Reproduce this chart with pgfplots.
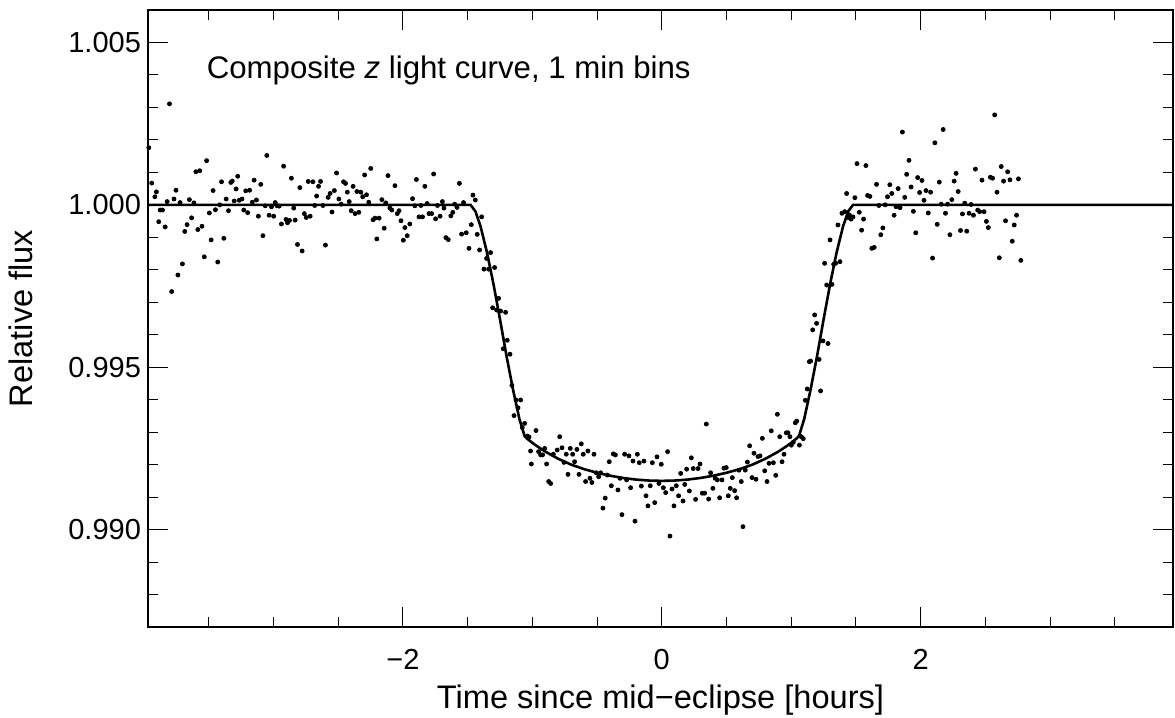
\documentclass[border=0pt]{standalone}
\usepackage{pgfplots}
\pgfplotsset{compat=1.18}
\usepackage{fontspec}
\setmainfont{Liberation Sans}
\newcommand{\fs}{\fontsize{14.5}{17}\selectfont}
\newcommand{\fl}{\fontsize{16.3}{19}\selectfont}
\newcommand{\ft}{\fontsize{15.6}{18}\selectfont}
\begin{document}
\begin{tikzpicture}
\begin{axis}[
  name=ax,
  scale only axis,
  width=512.5pt, height=308.5pt,
  xmin=-3.97, xmax=3.95,
  ymin=0.987, ymax=1.006,
  xtick={-2,0,2},
  xticklabels={−2,0,2},
  ytick={0.990,0.995,1.000,1.005},
  yticklabels={0.990,0.995,1.000,1.005},
  minor xtick={-3.5,-3,-2.5,-1.5,-1,-0.5,0.5,1,1.5,2.5,3,3.5},
  minor ytick={0.988,0.989,0.991,0.992,0.993,0.994,0.996,0.997,0.998,0.999,1.001,1.002,1.003,1.004},
  tick align=inside,
  major tick length=10pt,
  minor tick length=5pt,
  tick style={line width=0.5pt, black},
  axis line style={line width=0.75pt},
  tick label style={font=\fs},
  xticklabel style={yshift=-7.5pt},
  label style={font=\fl},
  xlabel={Time since mid−eclipse [hours]},
  ylabel={Relative flux},
  xlabel style={at={(axis description cs:0.5,-0.1315)}, anchor=base},
  ylabel style={at={(axis description cs:-0.1122,0.5)}, anchor=base},
  clip=true,
]
\addplot[only marks, mark=*, mark size=1pt, black] table {
-3.964 1.00176
-3.941 1.00067
-3.917 1.00025
-3.905 1.00040
-3.887 0.99948
-3.876 0.99984
-3.858 0.99984
-3.837 0.99932
-3.822 1.00010
-3.804 1.00311
-3.787 0.99733
-3.769 1.00018
-3.754 1.00045
-3.739 0.99784
-3.722 1.00007
-3.704 0.99818
-3.686 0.99918
-3.668 0.99939
-3.650 1.00016
-3.633 0.99960
-3.615 1.00006
-3.600 1.00102
-3.585 0.99924
-3.570 1.00105
-3.553 0.99934
-3.535 0.99840
-3.517 1.00136
-3.496 0.99975
-3.482 0.99892
-3.467 1.00044
-3.449 0.99985
-3.431 0.99824
-3.416 1.00000
-3.402 1.00071
-3.384 0.99897
-3.366 1.00018
-3.348 0.99982
-3.330 1.00069
-3.319 1.00073
-3.304 1.00012
-3.289 1.00049
-3.277 1.00088
-3.265 1.00014
-3.244 1.00018
-3.230 0.99984
-3.215 1.00043
-3.200 0.99976
-3.185 1.00045
-3.164 1.00008
-3.150 1.00076
-3.132 1.00015
-3.117 0.99965
-3.099 1.00063
-3.082 0.99905
-3.064 0.99997
-3.052 1.00152
-3.034 0.99968
-3.016 0.99994
-2.999 0.99965
-2.987 1.00007
-2.972 0.99997
-2.957 0.99996
-2.939 0.99941
-2.922 1.00119
-2.904 0.99955
-2.892 0.99945
-2.877 0.99952
-2.862 1.00082
-2.844 0.99990
-2.833 0.99953
-2.815 0.99878
-2.797 1.00053
-2.779 0.99858
-2.762 0.99973
-2.747 0.99961
-2.732 1.00072
-2.717 0.99965
-2.696 1.00071
-2.682 0.99998
-2.667 1.00027
-2.652 1.00057
-2.637 1.00072
-2.619 0.99998
-2.599 0.99876
-2.578 1.00023
-2.563 1.00035
-2.548 0.99978
-2.530 1.00044
-2.513 1.00098
-2.495 1.00018
-2.477 1.00002
-2.459 1.00071
-2.444 1.00066
-2.430 1.00039
-2.415 1.00010
-2.400 0.99982
-2.385 1.00057
-2.370 0.99973
-2.356 1.00041
-2.341 0.99977
-2.326 1.00039
-2.311 1.00025
-2.296 1.00092
-2.282 1.00031
-2.264 1.00008
-2.249 1.00112
-2.231 0.99954
-2.216 0.99959
-2.202 0.99895
-2.184 0.99959
-2.163 1.00016
-2.145 0.99928
-2.133 1.00006
-2.116 1.00090
-2.101 0.99990
-2.086 0.99984
-2.062 1.00059
-2.044 0.99973
-2.030 0.99982
-2.015 0.99951
-1.997 0.99891
-1.985 0.99930
-1.967 0.99905
-1.947 0.99941
-1.926 1.00019
-1.908 0.99997
-1.896 1.00078
-1.876 0.99963
-1.861 0.99998
-1.849 0.99963
-1.831 1.00057
-1.813 1.00004
-1.799 0.99973
-1.778 0.99973
-1.763 1.00095
-1.748 0.99957
-1.733 0.99998
-1.713 0.99965
-1.695 1.00010
-1.683 0.99990
-1.668 0.99899
-1.650 0.99893
-1.630 0.99966
-1.615 0.99977
-1.600 1.00002
-1.582 0.99992
-1.564 1.00066
-1.547 0.99910
-1.532 1.00007
-1.511 0.99914
-1.490 0.99866
-1.472 0.99939
-1.459 1.00030
-1.441 1.00015
-1.426 0.99909
-1.408 0.99861
-1.392 0.99963
-1.374 0.99802
-1.354 0.99835
-1.338 0.99802
-1.323 0.99853
-1.307 0.99683
-1.292 0.99807
-1.276 0.99676
-1.261 0.99712
-1.245 0.99673
-1.225 0.99557
-1.207 0.99669
-1.194 0.99583
-1.173 0.99540
-1.158 0.99444
-1.142 0.99351
-1.127 0.99399
-1.111 0.99375
-1.091 0.99399
-1.078 0.99314
-1.060 0.99327
-1.039 0.99288
-1.026 0.99285
-1.014 0.99242
-1.008 0.99202
-0.972 0.99305
-0.952 0.99240
-0.936 0.99230
-0.921 0.99230
-0.905 0.99250
-0.890 0.99202
-0.874 0.99148
-0.859 0.99142
-0.838 0.99232
-0.808 0.99245
-0.789 0.99286
-0.771 0.99252
-0.756 0.99207
-0.738 0.99232
-0.725 0.99170
-0.707 0.99250
-0.689 0.99232
-0.674 0.99209
-0.656 0.99247
-0.640 0.99170
-0.622 0.99264
-0.607 0.99232
-0.589 0.99148
-0.571 0.99242
-0.555 0.99158
-0.540 0.99145
-0.524 0.99232
-0.506 0.99175
-0.488 0.99163
-0.473 0.99175
-0.455 0.99066
-0.437 0.99097
-0.421 0.99168
-0.406 0.99209
-0.390 0.99135
-0.375 0.99233
-0.359 0.99230
-0.339 0.99122
-0.323 0.99158
-0.308 0.99046
-0.287 0.99232
-0.272 0.99153
-0.254 0.99227
-0.241 0.99129
-0.223 0.99211
-0.207 0.99026
-0.189 0.99232
-0.174 0.99206
-0.158 0.99134
-0.138 0.99211
-0.122 0.99104
-0.107 0.99073
-0.089 0.99135
-0.073 0.99206
-0.055 0.99083
-0.037 0.99224
-0.022 0.99142
-0.004 0.99201
0.012 0.99129
0.030 0.99114
0.045 0.99240
0.063 0.98980
0.079 0.99125
0.094 0.99073
0.112 0.99135
0.130 0.99104
0.146 0.99173
0.164 0.99088
0.177 0.99139
0.192 0.99186
0.213 0.99119
0.228 0.99221
0.243 0.99188
0.261 0.99093
0.280 0.99188
0.295 0.99202
0.313 0.99112
0.331 0.99112
0.344 0.99325
0.362 0.99094
0.377 0.99175
0.395 0.99127
0.413 0.99158
0.429 0.99153
0.447 0.99098
0.465 0.99153
0.480 0.99189
0.498 0.99191
0.514 0.99104
0.529 0.99127
0.545 0.99160
0.563 0.99120
0.578 0.99098
0.596 0.99183
0.614 0.99148
0.627 0.99009
0.645 0.99183
0.661 0.99208
0.679 0.99258
0.697 0.99160
0.712 0.99235
0.728 0.99155
0.743 0.99225
0.759 0.99227
0.777 0.99281
0.795 0.99181
0.813 0.99148
0.828 0.99204
0.846 0.99304
0.862 0.99206
0.880 0.99167
0.893 0.99355
0.911 0.99286
0.929 0.99209
0.944 0.99232
0.962 0.99298
0.975 0.99298
0.990 0.99286
1.001 0.99260
1.016 0.99269
1.032 0.99329
1.042 0.99334
1.063 0.99260
1.078 0.99286
1.093 0.99280
1.109 0.99398
1.124 0.99433
1.140 0.99517
1.150 0.99519
1.166 0.99615
1.181 0.99661
1.196 0.99635
1.215 0.99524
1.227 0.99427
1.245 0.99581
1.258 0.99820
1.274 0.99753
1.284 0.99573
1.300 0.99892
1.315 0.99755
1.328 0.99817
1.343 0.99820
1.361 0.99938
1.377 0.99825
1.392 0.99974
1.413 0.99979
1.428 1.00035
1.439 0.99961
1.449 0.99969
1.462 0.99956
1.477 0.99963
1.492 1.00022
1.508 1.00127
1.526 0.99977
1.544 0.99922
1.559 0.99956
1.577 1.00121
1.590 1.00029
1.608 1.00026
1.623 0.99866
1.641 0.99869
1.659 1.00063
1.677 0.99998
1.692 0.99908
1.708 0.99929
1.726 1.00000
1.744 1.00025
1.762 1.00062
1.777 1.00035
1.795 0.99968
1.810 0.99994
1.826 1.00050
1.841 0.99991
1.859 1.00224
1.877 1.00023
1.892 1.00094
1.910 1.00137
1.926 1.00055
1.944 0.99980
1.962 0.99914
1.977 1.00084
1.992 1.00038
2.010 1.00075
2.026 1.00014
2.041 1.00044
2.059 0.99975
2.077 1.00039
2.092 0.99836
2.110 1.00191
2.128 0.99940
2.144 1.00070
2.159 1.00002
2.174 1.00232
2.192 0.99974
2.208 1.00002
2.226 0.99908
2.241 1.00016
2.259 1.00073
2.274 1.00097
2.290 1.00041
2.308 0.99921
2.323 0.99972
2.341 1.00005
2.356 0.99919
2.374 0.99974
2.390 1.00001
2.408 0.99968
2.423 1.00110
2.441 0.99984
2.456 0.99979
2.474 1.00076
2.490 0.99979
2.508 0.99949
2.523 0.99930
2.539 1.00085
2.556 1.00082
2.572 1.00277
2.590 1.00039
2.608 0.99837
2.623 1.00118
2.641 1.00073
2.656 0.99951
2.672 1.00102
2.690 1.00077
2.708 0.99888
2.723 0.99938
2.741 0.99968
2.756 1.00080
2.774 0.99829
};
\addplot[black, line width=1.3pt] table {
-3.97 1.00000
-1.478 1.00000
-1.44 0.99980
-1.40 0.99933
-1.35 0.99852
-1.30 0.99755
-1.25 0.99647
-1.20 0.99535
-1.15 0.99432
-1.10 0.99340
-1.06 0.99288
-1.04 0.99280
-1.00 0.99267
-0.95 0.99253
-0.90 0.99240
-0.80 0.99218
-0.70 0.99200
-0.60 0.99186
-0.50 0.99175
-0.40 0.99166
-0.30 0.99159
-0.20 0.99154
-0.10 0.99151
0.00 0.99150
0.10 0.99151
0.20 0.99154
0.30 0.99159
0.40 0.99166
0.50 0.99175
0.60 0.99186
0.70 0.99200
0.80 0.99218
0.90 0.99240
0.95 0.99253
1.00 0.99267
1.04 0.99280
1.06 0.99288
1.10 0.99340
1.15 0.99432
1.20 0.99535
1.25 0.99647
1.30 0.99755
1.35 0.99852
1.40 0.99933
1.44 0.99980
1.478 1.00000
3.95 1.00000
};
\node[anchor=base west, font=\ft] at (axis cs:-3.57,1.0039) {Composite \textit{z} light curve, 1 min bins};
\end{axis}
\pgfresetboundingbox
\path ([shift={(-74pt,-45pt)}]ax.south west) rectangle ([shift={(1pt,5pt)}]ax.north east);
\end{tikzpicture}
\end{document}
